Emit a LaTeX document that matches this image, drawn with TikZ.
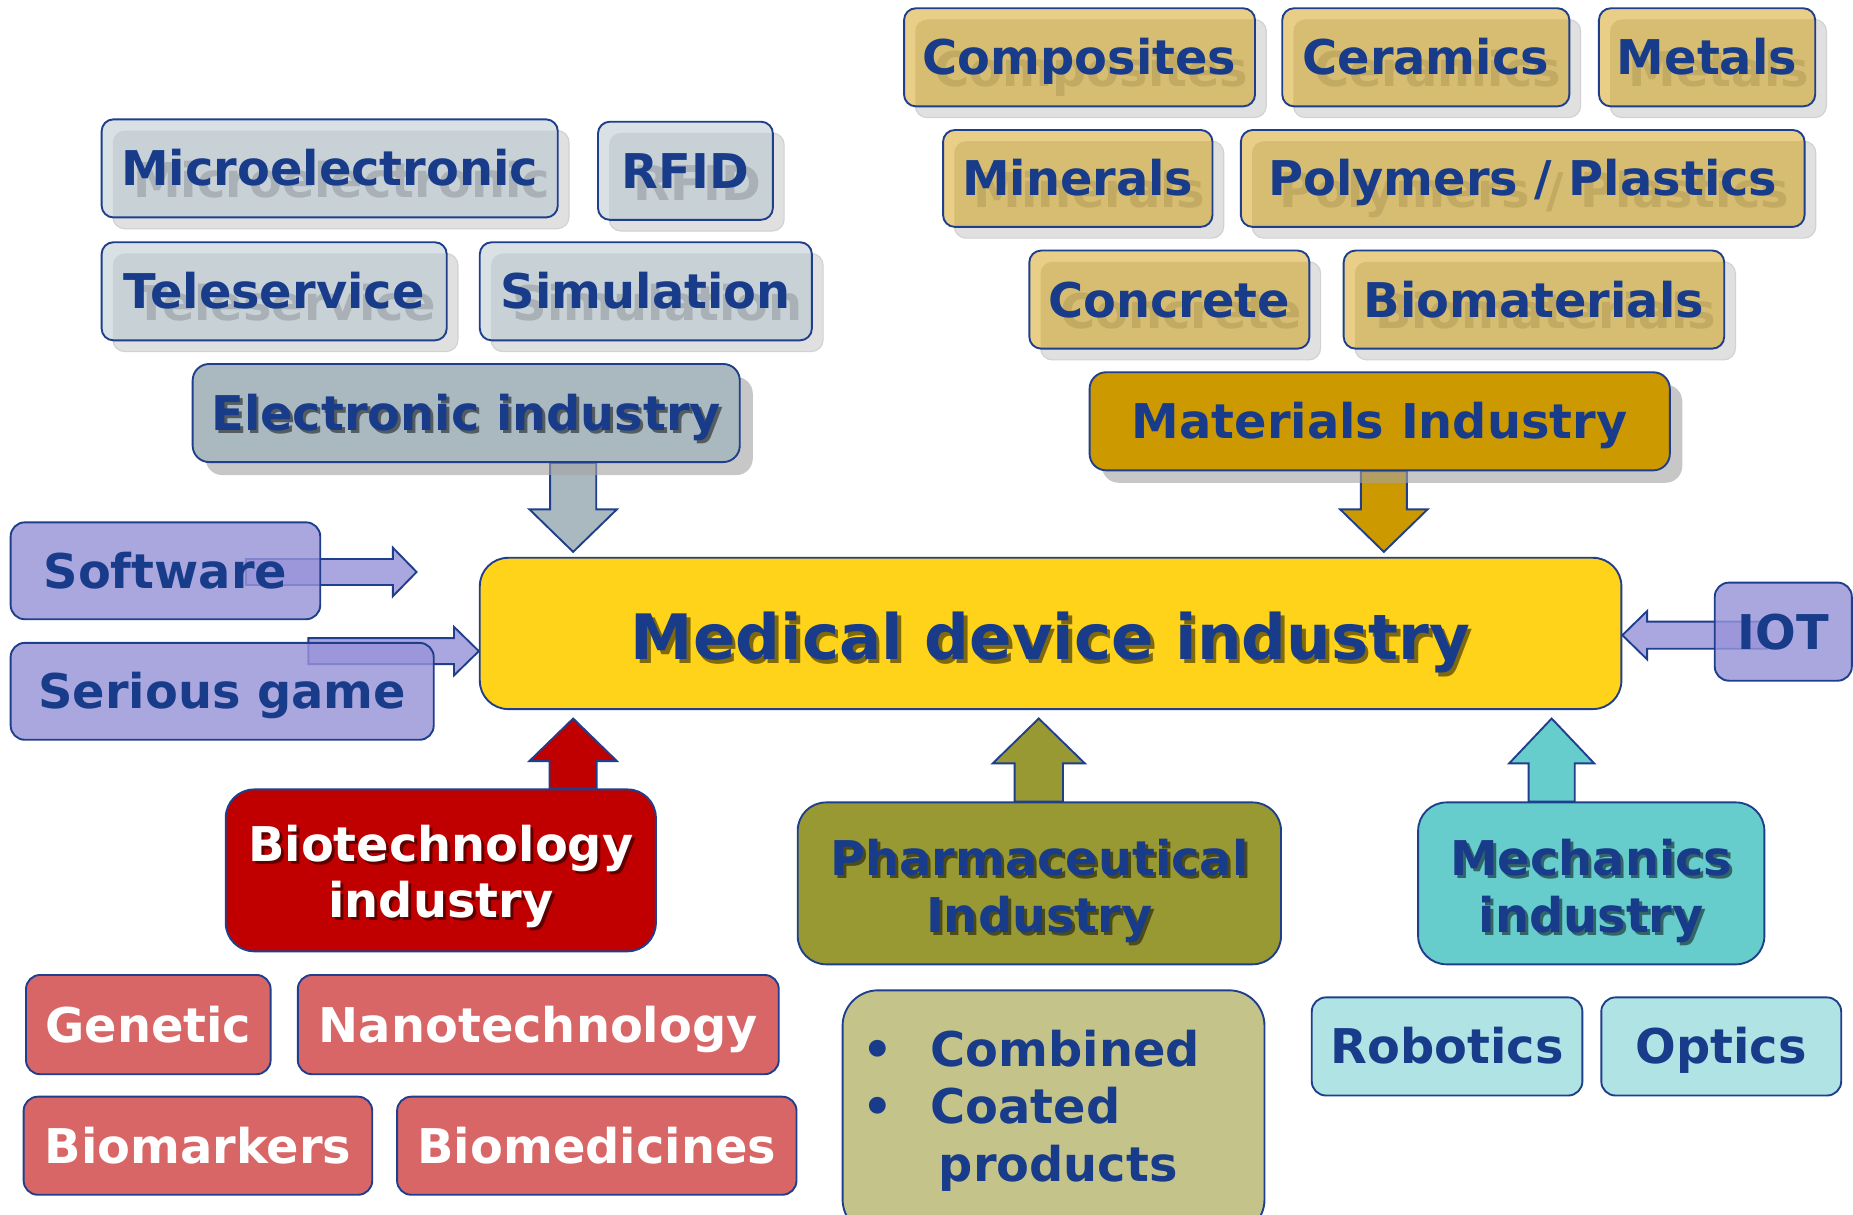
\documentclass[tikz,border=0pt]{standalone}
\usepackage{fontspec}
\setmainfont{DejaVu Sans}
\usetikzlibrary{calc}
\pgfdeclarelayer{bg}
\pgfsetlayers{bg,main}

\definecolor{txtblue}{HTML}{183C8A}
\definecolor{bordc}{HTML}{1F3F8C}
\definecolor{shadowc}{HTML}{E0E0E0}
\definecolor{shadowe}{HTML}{D2D2D2}
\definecolor{tanL}{HTML}{E8CE86}
\definecolor{tanD}{HTML}{D6BD72}
\definecolor{tanG}{HTML}{C2AA62}
\definecolor{gbL}{HTML}{DAE1E5}
\definecolor{gbD}{HTML}{C8D1D6}
\definecolor{gbG}{HTML}{A9B1B6}
\definecolor{elecc}{HTML}{AAB9C0}
\definecolor{matc}{HTML}{CC9900}
\definecolor{medc}{HTML}{FFD31A}
\definecolor{lavc}{HTML}{AAA6DF}
\definecolor{lavbox}{RGB}{152,148,217}
\definecolor{biotc}{HTML}{C00000}
\definecolor{pharc}{HTML}{999933}
\definecolor{mechc}{HTML}{66CCCC}
\definecolor{combc}{HTML}{C4C48A}
\definecolor{robc}{HTML}{B0E4E4}
\definecolor{genc}{HTML}{D96666}
\definecolor{shdc}{RGB}{163,163,163}

% ghost-shadowed box: name, x1, y1, x2, y2, text, light fill, dark fill, ghost text colour
\newcommand\ghostbox[9]{%
  \filldraw[fill=shadowc, draw=shadowe, line width=0.5pt, rounded corners=5pt] ({#2+9.5},{#3+9.5}) rectangle ({#4+9.5},{#5+9.5});
  \fill[#7, rounded corners=5pt] (#2,#3) rectangle (#4,#5);
  \begin{scope}
    \clip[rounded corners=5pt] (#2,#3) rectangle (#4,#5);
    \fill[#8, rounded corners=5pt] ({#2+9.5},{#3+9.5}) rectangle ({#4+9.5},{#5+9.5});
    \node[lbl, text=#9] (#1-ghost) at ({(#2+#4)/2+10},{(#3+#5)/2+10}) {#6};
  \end{scope}
  \node[lbl, plainbox, rounded corners=5pt, minimum width={(#4-#2)*0.5pt}, minimum height={(#5-#3)*0.5pt}] (#1) at ({(#2+#4)/2},{(#3+#5)/2}) {#6};
}
% plain box: name, x1, y1, x2, y2, style, text
\newcommand\pbox[7]{%
  \node[#6, minimum width={(#4-#2)*0.5pt}, minimum height={(#5-#3)*0.5pt}] (#1) at ({(#2+#4)/2},{(#3+#5)/2}) {#7};
}
% block arrow: tail, tip, shaft half width, head half width, head length, style
\newcommand\blockarr[6]{%
  \coordinate (ba-h) at ($(#2)!#5!(#1)$);
  \draw[#6] ($(#1)!#3!90:(#2)$) -- ($(ba-h)!#3!90:(#2)$) -- ($(ba-h)!#4!90:(#2)$) -- (#2)
     -- ($(ba-h)!#4!-90:(#2)$) -- ($(ba-h)!#3!-90:(#2)$) -- ($(#1)!#3!-90:(#2)$) -- cycle;
}
\newcommand\bul{\llap{\makebox[0pt][c]{•}\hspace{22.5pt}}}

\begin{document}
\begin{tikzpicture}[x=0.5pt,y=-0.5pt,
  lbl/.style={font=\bfseries\fontsize{20.25}{24}\selectfont, text=txtblue, inner sep=0pt, text height=14.76pt, text depth=0pt},
  plainbox/.style={draw=bordc, line width=0.8pt, rounded corners=6pt},
  indlbl/.style={font=\bfseries\fontsize{20.25}{24}\selectfont, text=txtblue, inner sep=0pt, align=center},
  medlbl/.style={font=\bfseries\fontsize{26.5}{30}\selectfont, text=txtblue, inner sep=0pt, text height=19.3pt, text depth=0pt},
  tsh/.style={text=black, text opacity=0.5},
  arr/.style={draw=bordc, line width=0.8pt, line join=miter},
  shd/.style={fill=shdc, fill opacity=0.6},
  lavbx/.style={lbl, plainbox, fill=lavbox, fill opacity=0.82, text opacity=1},
]
\begin{pgfonlayer}{bg}
\fill[white] (0,0) rectangle (1568,1027.3);
\end{pgfonlayer}
\useasboundingbox (0,0) rectangle (1568,1027.3);

% ---- materials sub-boxes
\ghostbox{composites}{765}{7}{1062}{90}{Composites}{tanL}{tanD}{tanG}
\ghostbox{ceramics}{1085}{7}{1328}{90}{Ceramics}{tanL}{tanD}{tanG}
\ghostbox{metals}{1353}{7}{1536}{90}{Metals}{tanL}{tanD}{tanG}
\ghostbox{minerals}{798}{110}{1026}{192}{Minerals}{tanL}{tanD}{tanG}
\ghostbox{polymers}{1050}{110}{1527}{192}{Polymers / Plastics}{tanL}{tanD}{tanG}
\ghostbox{concrete}{871}{212}{1108}{295}{Concrete}{tanL}{tanD}{tanG}
\ghostbox{biomaterials}{1137}{212}{1459}{295}{Biomaterials}{tanL}{tanD}{tanG}

% ---- electronic sub-boxes
\ghostbox{microelectronic}{86}{101}{472}{184}{Microelectronic}{gbL}{gbD}{gbG}
\ghostbox{rfid}{506}{103}{654}{186}{RFID}{gbL}{gbD}{gbG}
\ghostbox{teleservice}{86}{205}{378}{288}{Teleservice}{gbL}{gbD}{gbG}
\ghostbox{simulation}{406}{205}{687}{288}{Simulation}{gbL}{gbD}{gbG}

% ---- industries
\pbox{electronic}{163}{308}{626}{391}{plainbox, rounded corners=7pt, fill=elecc}{}
\node[lbl, tsh] (electronic-sh) at ($(electronic.center)+(2.5,2.5)$) {Electronic industry};
\node[lbl] (electronic-t) at (electronic.center) {Electronic industry};

\pbox{materials}{922}{315}{1413}{398}{lbl, plainbox, rounded corners=7pt, fill=matc}{Materials Industry}

\pbox{medical}{406}{472}{1372}{600}{plainbox, rounded corners=12pt, fill=medc}{}
\node[medlbl, tsh] (medical-sh) at ($(medical.center)+(3,6)$) {Medical device industry};
\node[medlbl] (medical-t) at ($(medical.center)+(0,3)$) {Medical device industry};

\pbox{software}{9}{442}{271}{524}{lavbx}{Software}
\pbox{serious}{9}{544}{367}{626}{lavbx}{Serious game}
\pbox{iot}{1451}{493}{1567}{576}{lavbx}{IOT}

\pbox{biotech}{191}{668}{555}{805}{plainbox, rounded corners=12pt, fill=biotc}{}
\node[indlbl, tsh] (biotech-sh) at ($(biotech.center)+(2.5,7.7)$) {Biotechnology\\industry};
\node[indlbl, text=white] (biotech-t) at ($(biotech.center)+(0,5.2)$) {Biotechnology\\industry};

\pbox{pharma}{675}{679}{1084}{816}{plainbox, rounded corners=12pt, fill=pharc}{}
\node[indlbl, tsh] (pharma-sh) at ($(pharma.center)+(2.5,9)$) {Pharmaceutical\\Industry};
\node[indlbl] (pharma-t) at ($(pharma.center)+(0,6.5)$) {Pharmaceutical\\Industry};

\pbox{mechanics}{1200}{679}{1493}{816}{plainbox, rounded corners=12pt, fill=mechc}{}
\node[indlbl, tsh] (mechanics-sh) at ($(mechanics.center)+(2.5,9)$) {Mechanics\\industry};
\node[indlbl] (mechanics-t) at ($(mechanics.center)+(0,6.5)$) {Mechanics\\industry};

% ---- lower sub-boxes
\pbox{combined}{713}{838}{1070}{1045}{plainbox, rounded corners=15pt, fill=combc}{}
\node[font=\bfseries\fontsize{20.25}{24.3}\selectfont, text=txtblue, inner sep=0pt, align=left, anchor=north west]
  (combined-t) at (787,871.2) {\bul Combined\\\bul Coated\\\hspace*{3.5pt}products};

\pbox{robotics}{1110}{844}{1339}{927}{lbl, plainbox, fill=robc}{Robotics}
\pbox{optics}{1355}{844}{1558}{927}{lbl, plainbox, fill=robc}{Optics}

\pbox{genetic}{22}{825}{229}{909}{lbl, plainbox, fill=genc, text=white}{Genetic}
\pbox{nanotech}{252}{825}{659}{909}{lbl, plainbox, fill=genc, text=white}{Nanotechnology}
\pbox{biomarkers}{20}{928}{315}{1011}{lbl, plainbox, fill=genc, text=white}{Biomarkers}
\pbox{biomedicines}{336}{928}{674}{1011}{lbl, plainbox, fill=genc, text=white}{Biomedicines}

% ---- arrows and shadows (behind)
\begin{pgfonlayer}{bg}
  \coordinate (etip) at (485,467);
  \coordinate (etail) at (etip |- electronic.south);
  \blockarr{etail}{etip}{9.75pt}{18.5pt}{18pt}{arr, fill=elecc}
  \coordinate (mtip) at (1171,467);
  \coordinate (mtail) at (mtip |- materials.south);
  \blockarr{mtail}{mtip}{9.75pt}{18.5pt}{18pt}{arr, fill=matc}
  \coordinate (btip) at (485,608);
  \coordinate (btail) at (btip |- biotech.north);
  \blockarr{btail}{btip}{10pt}{18.5pt}{18pt}{arr, fill=biotc}
  \coordinate (ptip) at (879,608);
  \coordinate (ptail) at (ptip |- pharma.north);
  \blockarr{ptail}{ptip}{10.25pt}{19.5pt}{19pt}{arr, fill=pharc}
  \coordinate (mctip) at (1313,608);
  \coordinate (mctail) at (mctip |- mechanics.north);
  \blockarr{mctail}{mctip}{9.75pt}{18pt}{19pt}{arr, fill=mechc}
  \coordinate (stail) at (208,484);
  \coordinate (stip) at (352.5,484);
  \blockarr{stail}{stip}{5.5pt}{10.25pt}{10pt}{arr, fill=lavc}
  \coordinate (gtail) at (261,551);
  \coordinate (gtip) at (gtail -| medical.west);
  \blockarr{gtail}{gtip}{5.5pt}{10.25pt}{10.5pt}{arr, fill=lavc}
  \coordinate (itail) at (1495,537.5);
  \coordinate (itip) at (itail -| medical.east);
  \blockarr{itail}{itip}{5.75pt}{10.25pt}{10.5pt}{arr, fill=lavc}
  \fill[shd, rounded corners=7pt] (174,319) rectangle (637,402);
  \fill[shd, rounded corners=7pt] (932.5,325.5) rectangle (1423.5,408.5);
\end{pgfonlayer}
\end{tikzpicture}
\end{document}
